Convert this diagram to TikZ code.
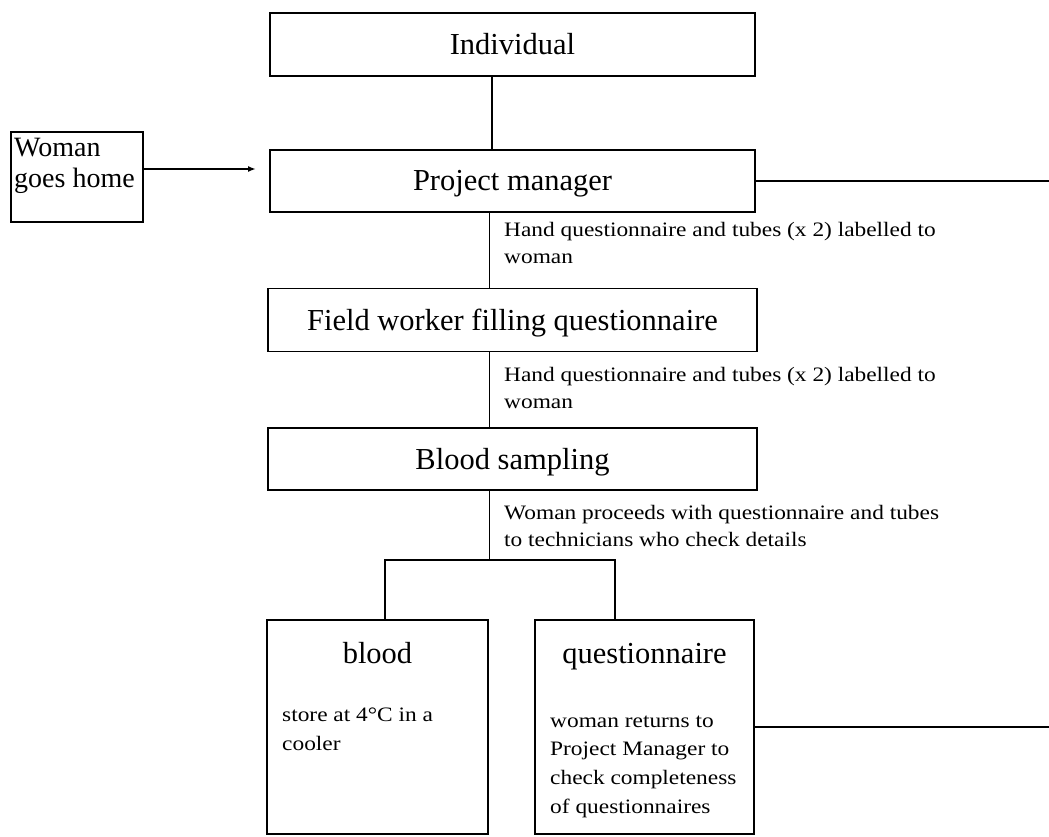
\documentclass[tikz,border=0pt]{standalone}
\usepackage{fontspec}
\setmainfont{Liberation Serif}
\newfontfamily\smallserif[FakeStretch=1.14]{Liberation Serif}
\usetikzlibrary{arrows.meta}
\newcommand\bigf{\fontsize{30.5}{36}\selectfont}
\newcommand\womanf{\fontsize{28}{31}\selectfont}
\newcommand\lblf{\smallserif\fontsize{20.5}{26.5}\selectfont}
\newcommand\bodyf{\smallserif\fontsize{20.5}{28.6}\selectfont}
\begin{document}
\begin{tikzpicture}[x=1pt,y=-1pt,
  box/.style={draw,line width=1.8pt,inner sep=0pt},
  bigtext/.style={font=\bigf,text height=20pt,text depth=0pt},
  conn/.style={line width=1.8pt},
  lbl/.style={font=\lblf,align=left,anchor=base west,inner sep=0pt},
  body/.style={font=\bodyf,align=left,anchor=base west,inner sep=0pt},
  title/.style={font=\bigf,anchor=base,inner sep=0pt}]
\useasboundingbox (0,0) rectangle (1049,837);
\fill[white] (0,0) rectangle (1049,837);

% main boxes
\node[box,bigtext,minimum width=485pt,minimum height=63pt] (ind) at (512.5,44.5) {Individual};
\node[box,bigtext,minimum width=485pt,minimum height=62pt] (pm) at (512.5,181) {Project manager};
\node[box,bigtext,minimum width=489pt,minimum height=63pt] (fw) at (512.5,320) {Field worker filling questionnaire};
\node[box,bigtext,minimum width=489pt,minimum height=62pt] (bs) at (512.5,459) {Blood sampling};

% woman goes home (anchor = baseline of last line)
\node[box,minimum width=132pt,minimum height=90pt] (woman) at (77,177) {};
\node[font=\womanf,align=left,anchor=base west,inner sep=0pt] (womantext) at (14,188) {Woman\\goes home};

% lower boxes
\node[box,minimum width=221pt,minimum height=214pt] (blood) at (377.5,727) {};
\node[box,minimum width=219pt,minimum height=214pt] (quest) at (644.5,727) {};
\node[title] (bloodtitle) at (377.5,663) {blood};
\node[title] (questtitle) at (644.5,663) {questionnaire};
\node[body] (bloodbody) at (282,750) {store at 4\textdegree C in a\\cooler};
\node[body] (questbody) at (550,813) {woman returns to\\Project Manager to\\check completeness\\of questionnaires};

% connector labels
\node[lbl] (lbl1) at (504,263) {Hand questionnaire and tubes (x 2) labelled to\\woman};
\node[lbl] (lbl2) at (504,408) {Hand questionnaire and tubes (x 2) labelled to\\woman};
\node[lbl] (lbl3) at (504,546) {Woman proceeds with questionnaire and tubes\\to technicians who check details};

% coordinates
\coordinate (v1) at (492,0);
\coordinate (vx) at (489.5,0);
\coordinate (arrowend) at (256,169);
\coordinate (bl) at (385,560);
\coordinate (br) at (615,560);
\coordinate (brk) at (489.5,560);
\coordinate (edge1) at (1049,181);
\coordinate (edge2) at (1049,727);

% connectors
\draw[conn] (ind.south -| v1) -- (pm.north -| v1);
\draw[conn,-{Latex[length=8pt,width=6pt]}] (woman.east |- arrowend) -- (arrowend);
\draw[conn] (pm.east) -- (edge1);
\draw[conn] (pm.south -| vx) -- (fw.north -| vx);
\draw[conn] (fw.south -| vx) -- (bs.north -| vx);
\draw[conn] (bs.south -| vx) -- (brk);
\draw[conn] (bl |- blood.north) -- (bl) -- (br) -- (br |- quest.north);
\draw[conn] (quest.east) -- (edge2);
\end{tikzpicture}
\end{document}
